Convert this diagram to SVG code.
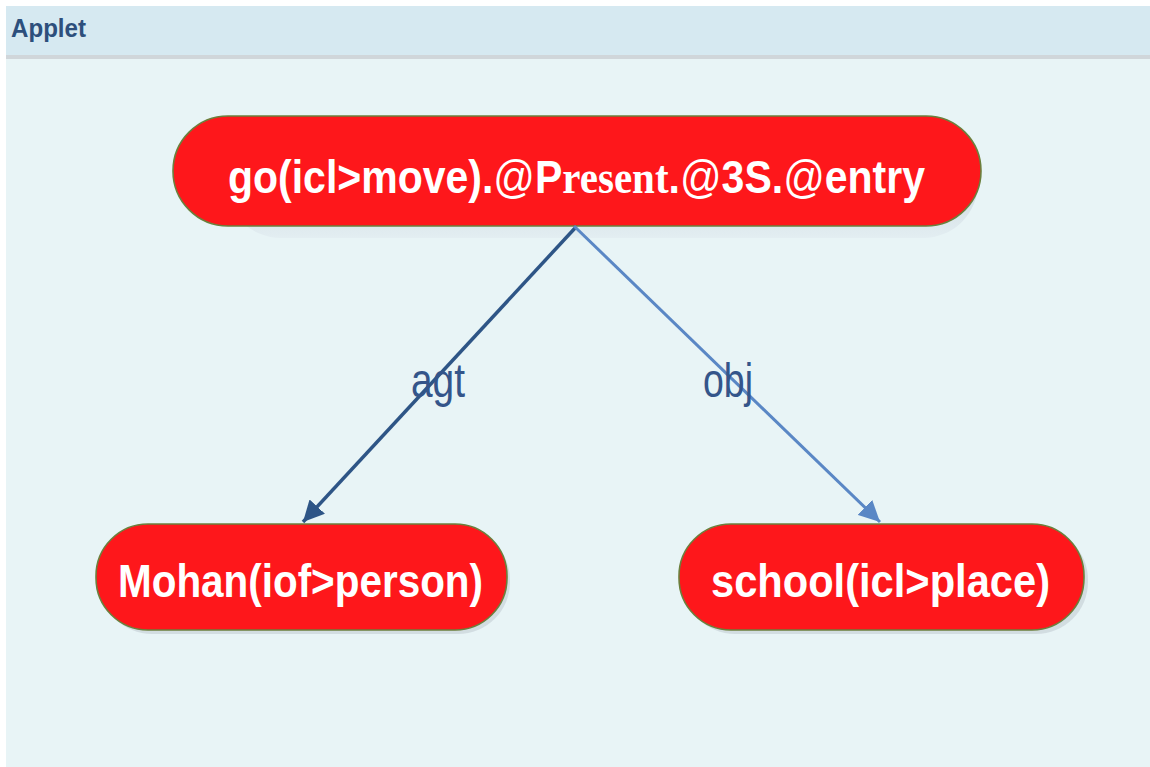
<svg xmlns="http://www.w3.org/2000/svg" width="1150" height="767" viewBox="0 0 1150 767">
<defs>
<style>
.node{fill:#fe171b;stroke:#6b7f3c;stroke-width:1.6}
.nt{font-family:"Liberation Sans",Arial,sans-serif;font-weight:bold;fill:#ffffff}
.lbl{font-family:"Liberation Sans",Arial,sans-serif;fill:#34558a}
</style>
<linearGradient id="sh" x1="0" y1="0" x2="0" y2="1">
<stop offset="0" stop-color="#b9c4cc"/>
<stop offset="1" stop-color="#e3eef2"/>
</linearGradient>
<marker id="ahD" viewBox="0 0 10 10" refX="10" refY="5" markerWidth="6" markerHeight="6" markerUnits="strokeWidth" orient="auto">
<path d="M0,0 L10,5 L0,10 z" fill="#2e5586"/>
</marker>
<marker id="ahL" viewBox="0 0 10 10" refX="10" refY="5" markerWidth="7" markerHeight="7" markerUnits="strokeWidth" orient="auto">
<path d="M0,0 L10,5 L0,10 z" fill="#5a87c5"/>
</marker>
</defs>
<rect width="1150" height="767" fill="#ffffff"/>
<g id="panel">
<rect x="6" y="6" width="1144" height="761" fill="#e8f4f6"/>
<rect x="6" y="6" width="1144" height="49" fill="#d6e9f1"/>
<rect x="6" y="55" width="1144" height="4" fill="#d0d6da"/>
<text x="11" y="37" font-family="Liberation Sans,Arial,sans-serif" font-weight="bold" font-size="25" fill="#2d4f7c" textLength="75" lengthAdjust="spacingAndGlyphs">Applet</text>
</g>
<g id="node-go">
<rect x="226" y="124" width="752" height="114" rx="55" fill="url(#sh)"/>
<rect class="node" x="173" y="116" width="808" height="110" rx="55"/>
<text class="nt" x="228" y="193" font-size="47" textLength="697" lengthAdjust="spacingAndGlyphs">go(icl&gt;move).<tspan font-weight="normal">@</tspan>P<tspan font-family="Liberation Serif,Times New Roman,serif">resent</tspan>.<tspan font-weight="normal">@</tspan>3S.<tspan font-weight="normal">@</tspan>entry</text>
</g>
<g id="node-mohan">
<rect x="100" y="528" width="410" height="106" rx="52" fill="#c9d3d9" opacity="0.7"/>
<rect class="node" x="96" y="524" width="411" height="106" rx="52"/>
<text class="nt" x="118" y="597" font-size="47" textLength="365" lengthAdjust="spacingAndGlyphs">Mohan(iof&gt;person)</text>
</g>
<g id="node-school">
<rect x="683" y="528" width="405" height="106" rx="52" fill="#c9d3d9" opacity="0.7"/>
<rect class="node" x="679" y="524" width="405" height="106" rx="52"/>
<text class="nt" x="711" y="597" font-size="47" textLength="339" lengthAdjust="spacingAndGlyphs">school(icl&gt;place)</text>
</g>
<g id="connectors">
<line x1="576" y1="227" x2="303" y2="522" stroke="#2e5586" stroke-width="3.5" marker-end="url(#ahD)"/>
<line x1="574" y1="226" x2="880" y2="522" stroke="#5a87c5" stroke-width="3" marker-end="url(#ahL)"/>
<text class="lbl" x="411" y="397" font-size="48" textLength="54" lengthAdjust="spacingAndGlyphs">agt</text>
<text class="lbl" x="703" y="397" font-size="48" textLength="50" lengthAdjust="spacingAndGlyphs">obj</text>
</g>
</svg>
